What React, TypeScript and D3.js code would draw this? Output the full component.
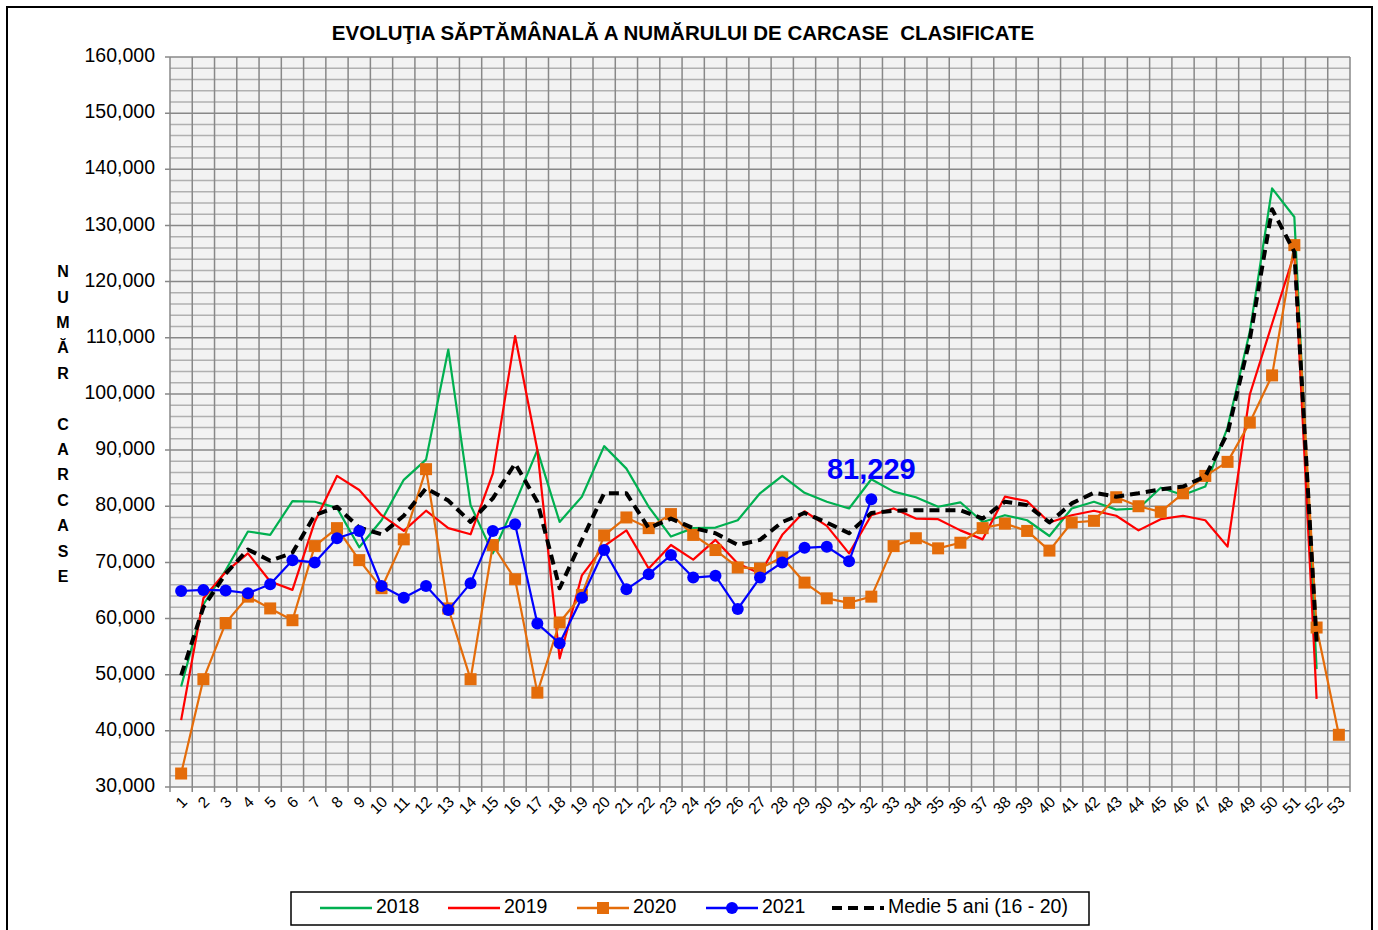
import React from "react";
import * as d3 from "d3";

const weeks = d3.range(1, 54).map(String);

const s2018 = [47900, 62500, 68600, 75500, 74900, 80900, 80800, 79700, 72700, 77500,
    84700, 88300, 107900, 80200, 71600, 80500, 90000, 77200, 81700, 90700,
    86700, 79900, 74600, 76100, 76200, 77500, 82300, 85400, 82400, 80800,
    79600, 84800, 82600, 81600, 79900, 80700, 77200, 78400, 77500, 74700,
    79600, 80800, 79400, 79600, 83300, 82000, 83500, 94000, 111100, 136600,
    131500, 51000];

const s2019 = [41900, 63600, 68300, 71600, 66600, 65100, 77200, 85400, 82900, 78400,
    75600, 79200, 76100, 75000, 85800, 110300, 90000, 52900, 67700, 72900,
    75700, 68900, 73100, 70500, 74000, 69800, 68000, 74900, 79100, 76500,
    71600, 78400, 79600, 77800, 77700, 75700, 74100, 81700, 80900, 77100,
    78400, 79200, 78300, 75700, 77700, 78300, 77500, 72800, 99900, 112500,
    125000, 45700];

const s2020 = [32400, 49200, 59200, 63900, 61800, 59700, 72900, 76100, 70400, 65400,
    74100, 86600, 61800, 49200, 73100, 67000, 46800, 59300, 64200, 74800,
    78000, 76100, 78600, 74900, 72200, 69100, 68900, 70900, 66400, 63600,
    62800, 63900, 72900, 74300, 72500, 73500, 76100, 76900, 75600, 72100,
    77100, 77400, 81600, 80000, 79000, 82300, 85400, 87900, 94900, 103300,
    126500, 58400, 39300];

const s2021 = [64900, 65100, 65000, 64500, 66100, 70400, 70000, 74300, 75600, 65800,
    63700, 65800, 61500, 66300, 75600, 76800, 59100, 55600, 63700, 72200,
    65200, 67900, 71300, 67300, 67600, 61700, 67300, 70000, 72600, 72800,
    70200, 81229];

const medie = [49900, 62000, 68000, 72300, 70300, 71700, 78400, 79900, 76200, 75000,
    78300, 83200, 81000, 77200, 81400, 87600, 80800, 65400, 74000, 82300,
    82300, 76100, 77800, 76100, 75200, 73100, 74000, 77200, 78800, 77100,
    75200, 78800, 79200, 79300, 79300, 79300, 77800, 80800, 80200, 77100,
    80500, 82400, 81700, 82300, 83000, 83500, 85300, 93000, 109700, 132900,
    125300, 55900];

const yTicks = d3.range(30000, 160001, 10000);
const yMinor = d3.range(30000, 160001, 2000);

const title = "EVOLUŢIA SĂPTĂMÂNALĂ A NUMĂRULUI DE CARCASE  CLASIFICATE";
const yTitle = ["N", "U", "M", "Ă", "R", "", "C", "A", "R", "C", "A", "S", "E"];

const W = 1378;
const H = 930;
const margin = { top: 57, right: 28, bottom: 143, left: 170 };
const FONT = "Arial, 'Liberation Sans', sans-serif";

export default function App() {
    const x = d3.scaleBand<string>(weeks, [margin.left, W - margin.right]);
    const y = d3.scaleLinear([30000, 160000], [H - margin.bottom, margin.top]);
    const cx = (i: number) => x(weeks[i])! + x.bandwidth() / 2;
    const line = d3.line<number>().x((d, i) => cx(i)).y(d => y(d));
    const fmt = d3.format(",");

    const series = [
        { name: "2018", data: s2018, color: "#00b050", width: 2.2, marker: null as string | null, dash: null as string | null },
        { name: "2019", data: s2019, color: "#ff0000", width: 2.2, marker: null, dash: null },
        { name: "2020", data: s2020, color: "#e46c0a", width: 2.2, marker: "square", dash: null },
        { name: "2021", data: s2021, color: "#0000ff", width: 2.2, marker: "circle", dash: null },
        { name: "Medie 5 ani (16 - 20)", data: medie, color: "#000000", width: 4, marker: null, dash: "10,6" },
    ];
    // draw order: 2018, 2019, 2020, medie, 2021
    const drawOrder = [0, 1, 2, 4, 3];

    const left = margin.left, right = W - margin.right;
    const top = margin.top, bottom = H - margin.bottom;

    const legendItems = [
        { s: series[0], x: 320 },
        { s: series[1], x: 448 },
        { s: series[2], x: 577 },
        { s: series[3], x: 706 },
        { s: series[4], x: 832 },
    ];

    return (
        <svg width={W} height={H} style={{ position: "absolute", left: 0, top: 0, background: "#fff" }}
            fontFamily={FONT}>
            <rect x={7} y={7} width={1365} height={940} fill="#fff" stroke="#000" strokeWidth={2} />

            <text x={683} y={40} textAnchor="middle" fontSize={20.5} fontWeight="bold"
                style={{ whiteSpace: "pre" }}>{title}</text>

            {/* plot area */}
            <rect x={left} y={top} width={right - left} height={bottom - top} fill="#f2f2f2" />
            <g name="minorGrid">
                {yMinor.filter(v => v % 10000 !== 0).map(v => (
                    <line key={v} x1={left} x2={right} y1={y(v)} y2={y(v)} stroke="#b0b0b0" strokeWidth={1.5} />
                ))}
            </g>
            <g name="vGrid">
                {weeks.map(w => (
                    <line key={w} x1={x(w)! + x.bandwidth()} x2={x(w)! + x.bandwidth()} y1={top} y2={bottom + 5}
                        stroke="#888" strokeWidth={1.5} />
                ))}
                <line x1={left} x2={left} y1={top} y2={bottom + 5} stroke="#888" strokeWidth={1.5} />
            </g>
            <g name="yTicks">
                {yTicks.map(t => (
                    <g key={t}>
                        <line x1={left - 5} x2={right} y1={y(t)} y2={y(t)} stroke="#888" strokeWidth={1.5} />
                        <text x={155} y={y(t)} dominantBaseline="middle" textAnchor="end" fontSize={19.5}>{fmt(t)}</text>
                    </g>
                ))}
            </g>
            <g name="xLabels">
                {weeks.map((w, i) => (
                    <text key={w} transform={`translate(${cx(i) + 4},${bottom + 13}) rotate(-45)`}
                        textAnchor="end" dominantBaseline="middle" fontSize={15.5}>{w}</text>
                ))}
            </g>
            <g name="yTitle">
                {yTitle.map((c, i) => (
                    <text key={i} x={63} y={273 + i * 25.4} textAnchor="middle" dominantBaseline="middle"
                        fontSize={16} fontWeight="bold">{c}</text>
                ))}
            </g>

            <g name="series">
                {drawOrder.map(k => {
                    const s = series[k];
                    return (
                        <g key={s.name}>
                            <path d={line(s.data)!} fill="none" stroke={s.color} strokeWidth={s.width}
                                strokeDasharray={s.dash ?? undefined} strokeLinejoin="round" />
                            {s.marker === "square" && s.data.map((d, i) => (
                                <rect key={i} x={cx(i) - 6} y={y(d) - 6} width={12} height={12} fill={s.color} />
                            ))}
                            {s.marker === "circle" && s.data.map((d, i) => (
                                <circle key={i} cx={cx(i)} cy={y(d)} r={6} fill={s.color} />
                            ))}
                        </g>
                    );
                })}
            </g>

            <text x={cx(s2021.length - 1)} y={y(s2021[s2021.length - 1]) - 20} textAnchor="middle"
                fontSize={29} fontWeight="bold" fill="#0000ff">{fmt(s2021[s2021.length - 1])}</text>

            <g name="legend">
                <rect x={291} y={892} width={798} height={33} fill="#fff" stroke="#000" strokeWidth={1.5} />
                {legendItems.map(({ s, x: lx }) => {
                    const ly = 908;
                    return (
                        <g key={s.name}>
                            <line x1={lx} x2={lx + 52} y1={ly} y2={ly} stroke={s.color}
                                strokeWidth={s.dash ? 4 : 2.5} strokeDasharray={s.dash ?? undefined} />
                            {s.marker === "square" && <rect x={lx + 20} y={ly - 6} width={12} height={12} fill={s.color} />}
                            {s.marker === "circle" && <circle cx={lx + 26} cy={ly} r={6} fill={s.color} />}
                            <text x={lx + 56} y={ly} dominantBaseline="middle" fontSize={19.5}>{s.name}</text>
                        </g>
                    );
                })}
            </g>
        </svg>
    );
}
